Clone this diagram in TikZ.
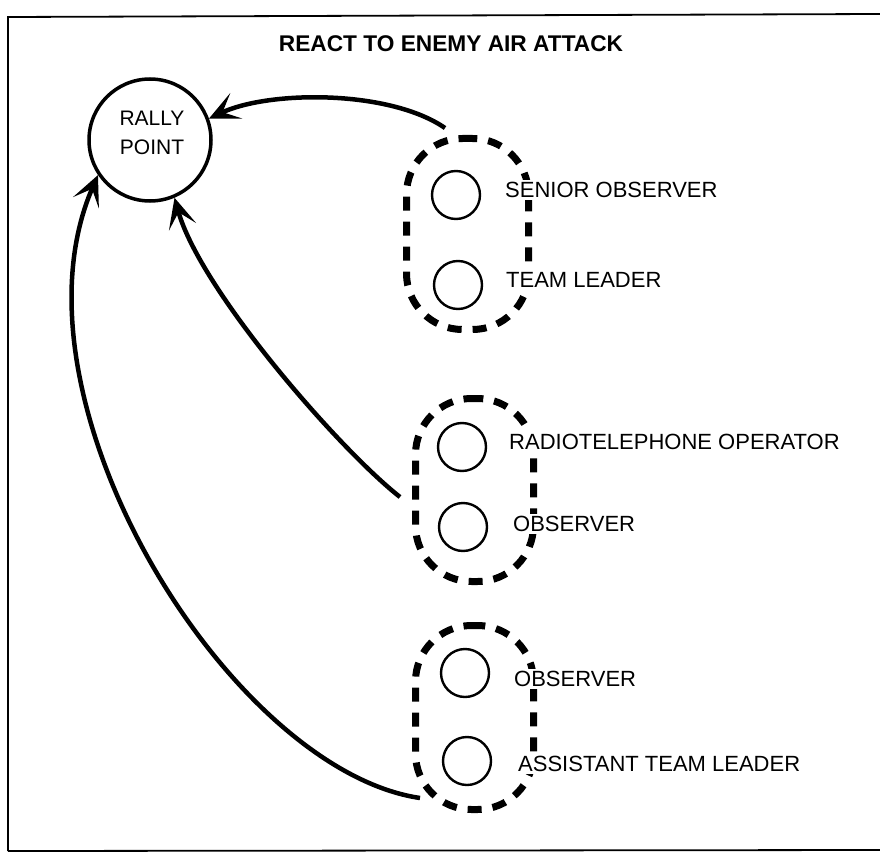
\documentclass[tikz,border=0pt]{standalone}
\usepackage{fontspec}
\setmainfont{Liberation Sans}
\usetikzlibrary{arrows.meta}
\begin{document}
\begin{tikzpicture}[x=1pt,y=-1pt,
  lbl/.style={anchor=west, inner sep=2pt, fill=white, font=\fontsize{22}{26}\selectfont},
  member/.style={circle, draw, line width=2.4pt, minimum size=48pt, inner sep=0pt},
  group/.style={draw, line width=7pt, dash pattern=on 14pt off 11pt, rounded corners=56pt, inner sep=0pt},
  move/.style={line width=4.5pt, -{Stealth[length=30pt,width=28pt,inset=15pt]}},
  frame/.style={line width=1.8pt}]
\useasboundingbox (0,0) rectangle (880,853);
% frame
\draw[frame] (8,851) -- (8,17) -- (880,14);
\draw[frame] (8,851) -- (880,850);
% title
\node[font=\bfseries\fontsize{22.7}{27}\selectfont] (title) at (451,44) {REACT TO ENEMY AIR ATTACK};
% rally point
\node[circle, draw, line width=3.5pt, minimum size=122pt, inner sep=0pt] (rally) at (150,140) {};
\node[align=center, inner sep=0pt, font=\fontsize{21}{29}\selectfont] (rallytxt) at (152,133) {RALLY\\POINT};
% groups
\node[group, minimum width=122pt, minimum height=191pt] (g1) at (467.5,234) {};
\node[group, minimum width=118pt, minimum height=183pt] (g2) at (474.5,490) {};
\node[group, minimum width=118pt, minimum height=184pt] (g3) at (474.5,717.5) {};
% members
\node[member] (m1) at (456,195) {};
\node[member] (m2) at (458,285) {};
\node[member] (m3) at (462,447) {};
\node[member] (m4) at (463,527) {};
\node[member] (m5) at (465,673) {};
\node[member] (m6) at (467,761) {};
% labels
\node[lbl] (l1) at (503,190) {SENIOR OBSERVER};
\node[lbl] (l2) at (504,280) {TEAM LEADER};
\node[lbl] (l3) at (507,442) {RADIOTELEPHONE OPERATOR};
\node[lbl] (l4) at (511,524) {OBSERVER};
\node[lbl] (l5) at (512,679) {OBSERVER};
\node[lbl] (l6) at (516,764) {ASSISTANT TEAM LEADER};
% movement arrows
\coordinate (s1) at (445,128);
\coordinate (s2) at (400,497);
\coordinate (s3) at (420,798);
\draw[move] (s1) .. controls (390,90) and (270,90) .. (rally.20);
\draw[move] (s2) .. controls (340,450) and (200,290) .. (rally.-67);
\draw[move] (s3) .. controls (230,770) and (0,400) .. (rally.214);
\end{tikzpicture}
\end{document}
